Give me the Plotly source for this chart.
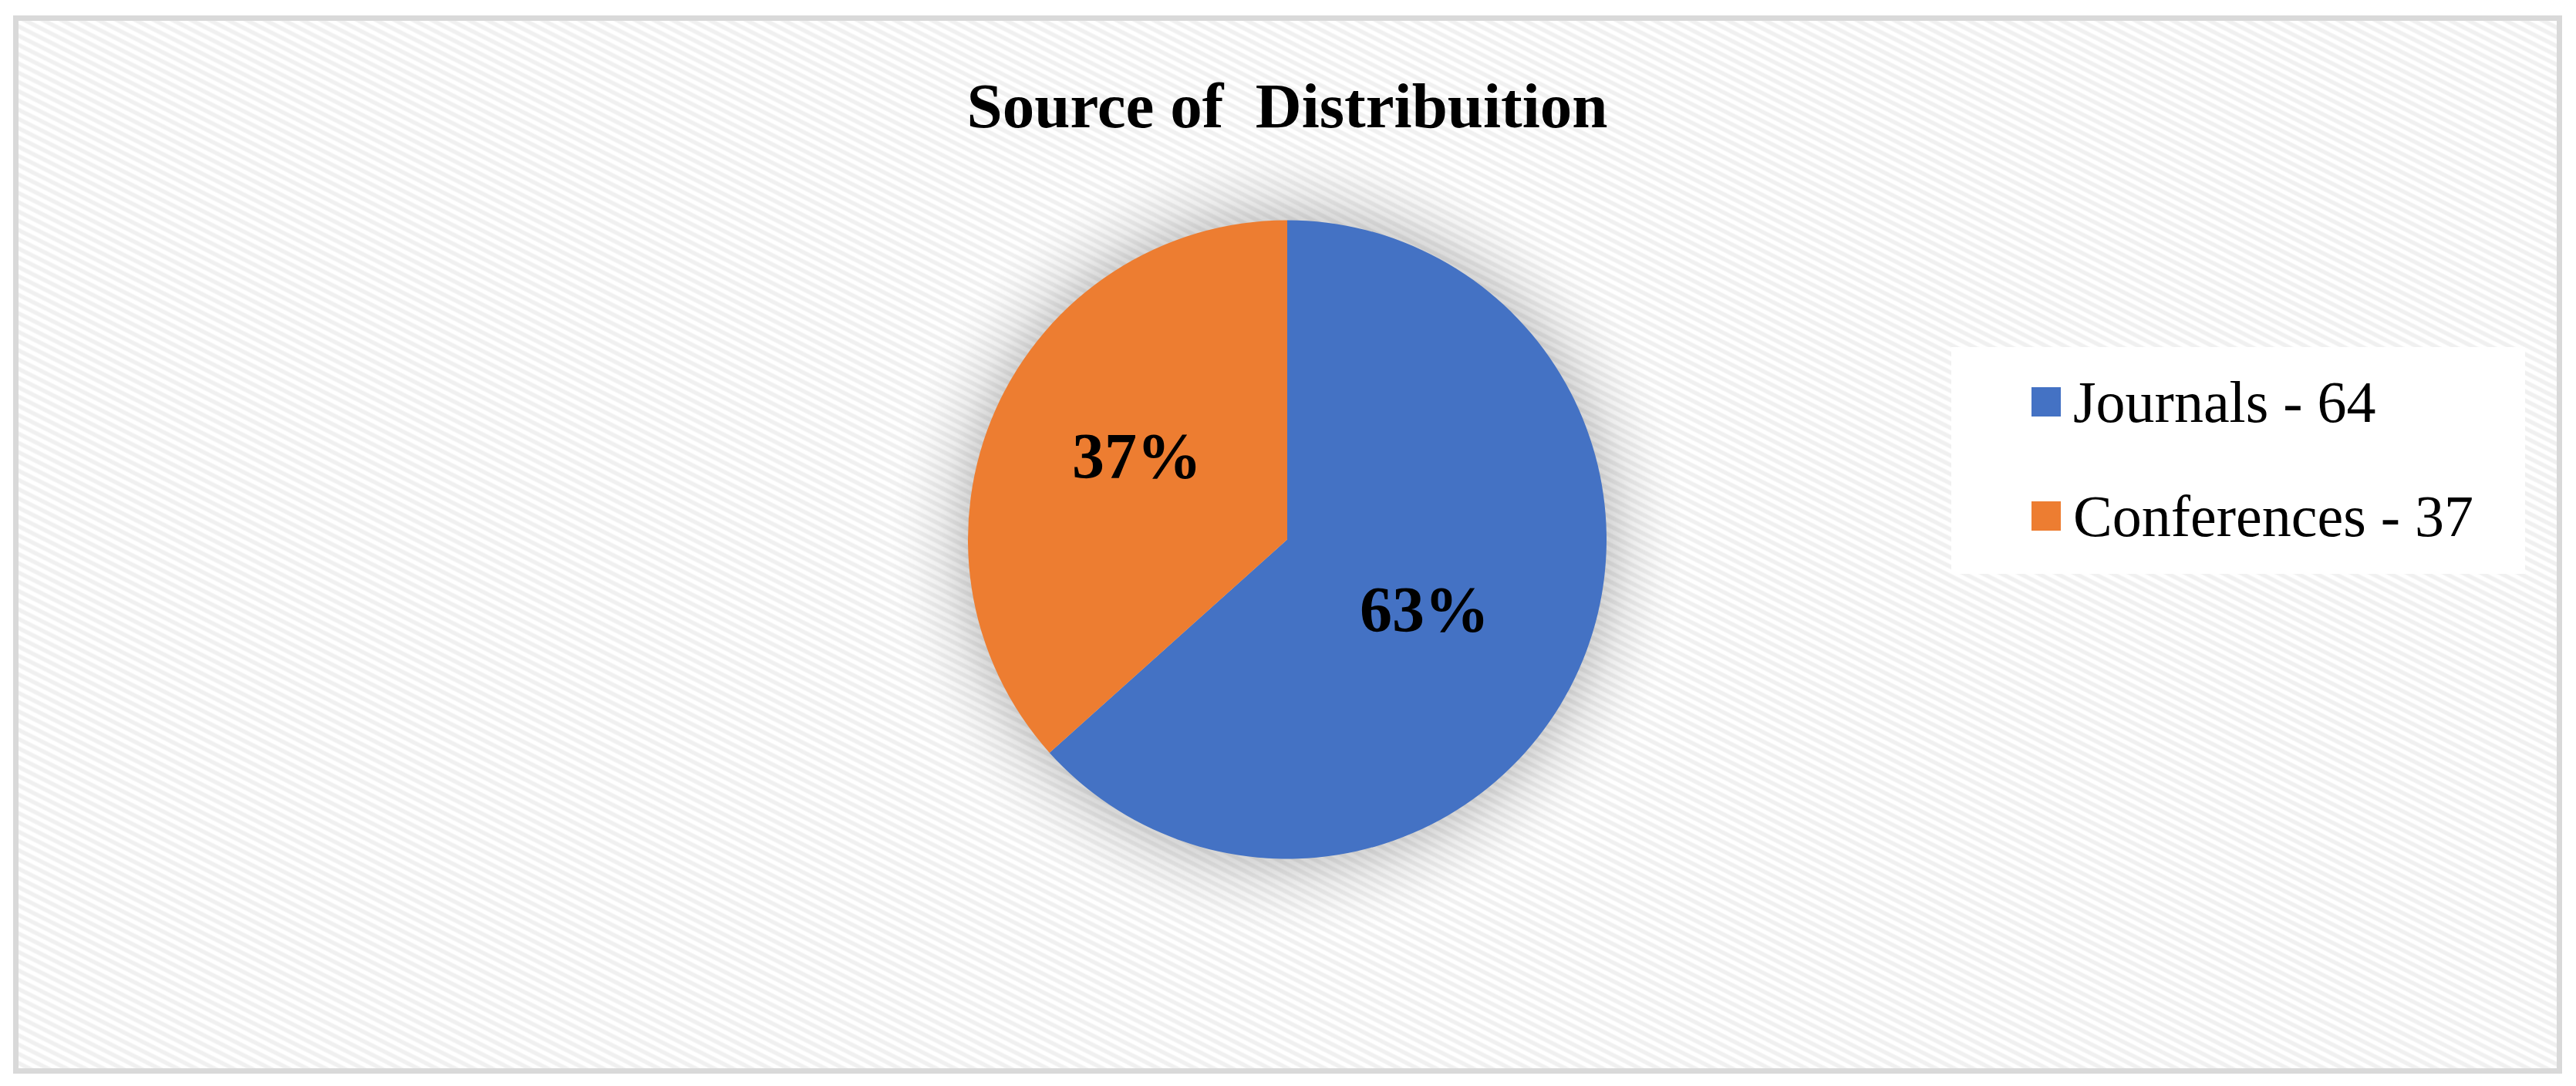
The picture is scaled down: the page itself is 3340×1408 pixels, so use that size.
import base64
import math
import plotly.graph_objects as go

# ---- data ----
categories = ["Journals", "Conferences"]
counts = [64, 37]
colors = ["#4472C4", "#ED7D31"]
title_text = "Source of  Distribuition"

# ---- canvas ----
W, H = 3340, 1408
OFF = 8  # page body margin of the exported html


def px(x):
    return (x - OFF) / W


def py(y):
    return 1 - (y - OFF) / H


FONT = "Liberation Serif"

# pie geometry (pixels on screen)
pie_cx, pie_cy, pie_r = 1669, 699.5, 414
# data-label placement style
LABEL_R = 0.51
LABEL_ROT = math.radians(4)
LABEL_SHIFT = (-8.5, -8.5)

# background: striped pattern + soft shadow around the pie
bx0, by0, bx1, by1 = 20.5, 23.5, 3318.5, 1388.5
bw, bh = bx1 - bx0, by1 - by0
scx, scy = pie_cx - bx0, pie_cy - by0
r1 = pie_r + 100
o0 = pie_r / r1
svg = f'''<svg xmlns="http://www.w3.org/2000/svg" width="{bw}" height="{bh}" viewBox="0 0 {bw} {bh}" preserveAspectRatio="none">
<defs>
<pattern id="p" width="24" height="12" patternUnits="userSpaceOnUse">
<rect width="24" height="12" fill="#ffffff"/>
<polygon points="0,0 12,0 24,6 24,12" fill="#f0f0f0"/>
<polygon points="0,6 12,12 0,12" fill="#f0f0f0"/>
</pattern>
<radialGradient id="g" cx="{scx}" cy="{scy}" r="{r1}" gradientUnits="userSpaceOnUse">
<stop offset="0" stop-color="#000" stop-opacity="0.16"/>
<stop offset="{o0:.4f}" stop-color="#000" stop-opacity="0.16"/>
<stop offset="{o0 + (1 - o0) * 0.35:.4f}" stop-color="#000" stop-opacity="0.07"/>
<stop offset="{o0 + (1 - o0) * 0.7:.4f}" stop-color="#000" stop-opacity="0.02"/>
<stop offset="1" stop-color="#000" stop-opacity="0"/>
</radialGradient>
</defs>
<rect width="{bw}" height="{bh}" fill="url(#p)"/>
<circle cx="{scx}" cy="{scy}" r="{r1}" fill="url(#g)"/>
</svg>'''
uri = "data:image/svg+xml;base64," + base64.b64encode(svg.encode()).decode()

fig = go.Figure()
fig.add_trace(go.Pie(
    labels=categories,
    values=counts,
    sort=False,
    direction="clockwise",
    rotation=0,
    marker=dict(colors=colors, line=dict(width=0)),
    textinfo="none",
    domain=dict(x=[px(pie_cx - pie_r), px(pie_cx + pie_r)],
                y=[py(pie_cy + pie_r), py(pie_cy - pie_r)]),
    showlegend=False,
))

shapes = [
    # outer border
    dict(type="rect", xref="paper", yref="paper", layer="below",
         x0=px(bx0), x1=px(bx1), y0=py(by1), y1=py(by0),
         line=dict(color="#d9d9d9", width=7), fillcolor="rgba(0,0,0,0)"),
    # legend box
    dict(type="rect", xref="paper", yref="paper", layer="below",
         x0=px(2530), x1=px(3274), y0=py(744), y1=py(450),
         line=dict(width=0), fillcolor="#ffffff"),
]
annotations = []

# data labels (percent of total) placed around the middle angle of each slice
total = sum(counts)
cum = 0
for cat, val in zip(categories, counts):
    mid = (cum + val / 2) / total * 2 * math.pi + LABEL_ROT
    cum += val
    lx = pie_cx + LABEL_R * pie_r * math.sin(mid) + LABEL_SHIFT[0]
    ly = pie_cy - LABEL_R * pie_r * math.cos(mid) + LABEL_SHIFT[1]
    annotations.append(dict(xref="paper", yref="paper", x=px(lx), y=py(ly),
                            xanchor="center", yanchor="middle", showarrow=False,
                            text=f"{round(100 * val / total)}%",
                            font=dict(family=FONT, size=84, color="black", weight="bold")))

# legend
row_y = [521, 669]
for i, (cat, val) in enumerate(zip(categories, counts)):
    yc = row_y[i]
    shapes.append(dict(type="rect", xref="paper", yref="paper",
                       x0=px(2634), x1=px(2672), y0=py(yc + 19), y1=py(yc - 19),
                       line=dict(width=0), fillcolor=colors[i]))
    annotations.append(dict(xref="paper", yref="paper", x=px(2686), y=py(yc),
                            xanchor="left", yanchor="middle", showarrow=False,
                            text=f"{cat} - {val}",
                            font=dict(family=FONT, size=76, color="black")))

fig.update_layout(
    width=W, height=H,
    margin=dict(l=0, r=0, t=0, b=0),
    paper_bgcolor="white",
    plot_bgcolor="white",
    title=dict(text=title_text, x=px(1669), xanchor="center", xref="paper",
               y=py(136), yanchor="middle", yref="container",
               font=dict(family=FONT, size=83, color="black", weight="bold")),
    images=[dict(source=uri, xref="paper", yref="paper", x=px(bx0), y=py(by0),
                 sizex=px(bx1) - px(bx0), sizey=py(by0) - py(by1),
                 sizing="stretch", layer="below", xanchor="left", yanchor="top")],
    shapes=shapes,
    annotations=annotations,
)

fig.write_html("out.html")
